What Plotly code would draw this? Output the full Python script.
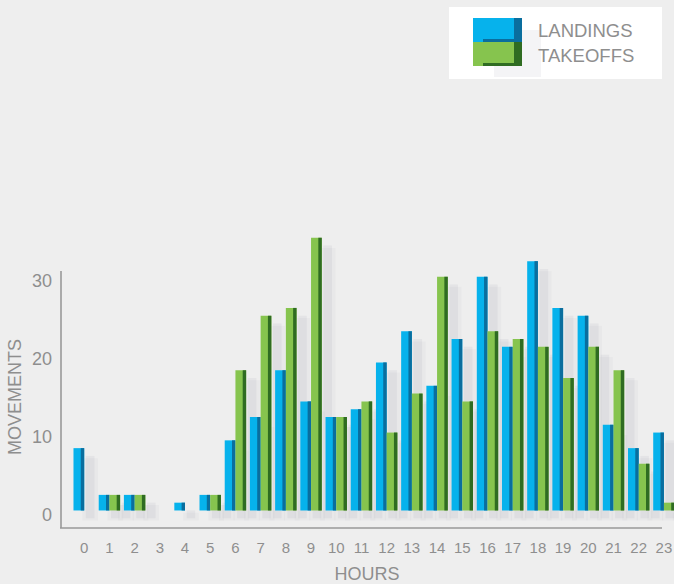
import plotly.graph_objects as go

hours = list(range(24))
hour_labels = [str(h) for h in hours]
landings = [8, 2, 2, 0, 1, 2, 9, 12, 18, 14, 12, 13, 19, 23, 16, 22, 30, 21, 32, 26, 25, 11, 8, 10]
takeoffs = [0, 2, 2, 0, 0, 2, 18, 25, 26, 35, 12, 14, 10, 15, 30, 14, 23, 22, 21, 17, 21, 18, 6, 1]
y_ticks = [0, 10, 20, 30]
series_names = ["LANDINGS", "TAKEOFFS"]

W, H = 674, 584
L, R, T, B = 60, 0, 230, 56
PW, PH = W - L - R, H - T - B
Y_LO, Y_HI = -2.25, 36.0
AXIS_TOP = 30.74

def px(x):
    return (x - L) / PW

def py(y):
    return (H - B - y) / PH

BG = "#EEEEEE"
TXT = "#8E8E8E"
AX = "#999999"
BLUE, BLUE_D = "#06B2EC", "#0A6E9E"
GREEN, GREEN_D = "#86C44E", "#2F6C22"
BW = 0.425
STRIP = 0.32

fig = go.Figure()

def nz(vals):
    return [v if v > 0 else None for v in vals]

# soft shadows
for vals, off in ((landings, -BW), (takeoffs, 0.0)):
    fig.add_trace(go.Bar(x=hours, y=nz(vals), base=-1.3, width=0.62, offset=off + 0.35,
                         marker=dict(color="rgba(110,115,135,0.045)", line_width=0),
                         hoverinfo="skip", showlegend=False))
    fig.add_trace(go.Bar(x=hours, y=nz(vals), base=-1.0, width=0.34, offset=off + 0.49,
                         marker=dict(color="rgba(110,115,135,0.08)", line_width=0),
                         hoverinfo="skip", showlegend=False))

for vals, name, c, cd, off in ((landings, series_names[0], BLUE, BLUE_D, -BW),
                               (takeoffs, series_names[1], GREEN, GREEN_D, 0.0)):
    fig.add_trace(go.Bar(x=hours, y=vals, name=name, width=BW, offset=off,
                         marker=dict(color=c, line_width=0), showlegend=False))
    fig.add_trace(go.Bar(x=hours, y=vals, width=BW * STRIP, offset=off + BW * (1 - STRIP),
                         marker=dict(color=cd, line_width=0),
                         hoverinfo="skip", showlegend=False))

shapes = [
    # x axis line
    dict(type="line", xref="paper", yref="paper", x0=0, x1=px(662), y0=0, y1=0,
         line=dict(color=AX, width=1.6)),
    # y axis line
    dict(type="line", xref="paper", yref="y", x0=px(61), x1=px(61), y0=Y_LO, y1=AXIS_TOP,
         line=dict(color=AX, width=1.6)),
    # legend box
    dict(type="rect", xref="paper", yref="paper", x0=px(449), x1=px(662), y0=py(79), y1=py(7),
         fillcolor="#FFFFFF", line_width=0, layer="below"),
    # legend swatch shadow
    dict(type="rect", xref="paper", yref="paper", x0=px(494), x1=px(541), y0=py(77), y1=py(30),
         fillcolor="rgba(110,115,135,0.08)", line_width=0),
]
legend_rows = [(BLUE, BLUE_D, 18, 42), (GREEN, GREEN_D, 42, 66)]
for c, cd, y0, y1 in legend_rows:
    shapes.append(dict(type="rect", xref="paper", yref="paper", x0=px(473), x1=px(522),
                       y0=py(y1), y1=py(y0), fillcolor=c, line_width=0))
    shapes.append(dict(type="rect", xref="paper", yref="paper", x0=px(514), x1=px(522),
                       y0=py(y1), y1=py(y0), fillcolor=cd, line_width=0))
    shapes.append(dict(type="rect", xref="paper", yref="paper", x0=px(483), x1=px(522),
                       y0=py(y1), y1=py(y1 - 3), fillcolor=cd, line_width=0))

annotations = []
for name, yc in zip(series_names, (31, 55.5)):
    annotations.append(dict(text=name, xref="paper", yref="paper", x=px(536), y=py(yc),
                            xanchor="left", yanchor="middle", showarrow=False,
                            font=dict(size=18.5, color=TXT)))
annotations.append(dict(text="MOVEMENTS", xref="paper", yref="paper", x=px(15), y=py(397),
                        xanchor="center", yanchor="middle", textangle=-90, showarrow=False,
                        font=dict(size=18, color=TXT)))

fig.update_layout(
    width=W, height=H,
    margin=dict(l=L, r=R, t=T, b=B),
    paper_bgcolor=BG, plot_bgcolor=BG,
    barmode="overlay",
    font=dict(family="Liberation Sans, Arial, sans-serif", color=TXT),
    shapes=shapes, annotations=annotations,
    xaxis=dict(range=[-0.96, 23.40], tickvals=hours, ticktext=hour_labels,
               showgrid=False, zeroline=False, showline=False, ticks="",
               tickfont=dict(size=15, color=TXT), ticklabelstandoff=9,
               title=dict(text="HOURS", font=dict(size=18, color=TXT), standoff=15),
               fixedrange=True),
    yaxis=dict(range=[Y_LO, Y_HI], tickvals=y_ticks, showgrid=False, zeroline=False,
               showline=False, ticks="", ticklabelshift=4,
               tickfont=dict(size=18, color=TXT), ticklabelstandoff=7,
               fixedrange=True),
    showlegend=False,
)

fig.write_html("out.html", config={"displayModeBar": False},
               post_script="document.body.style.margin='0';document.body.style.overflow='hidden';")
